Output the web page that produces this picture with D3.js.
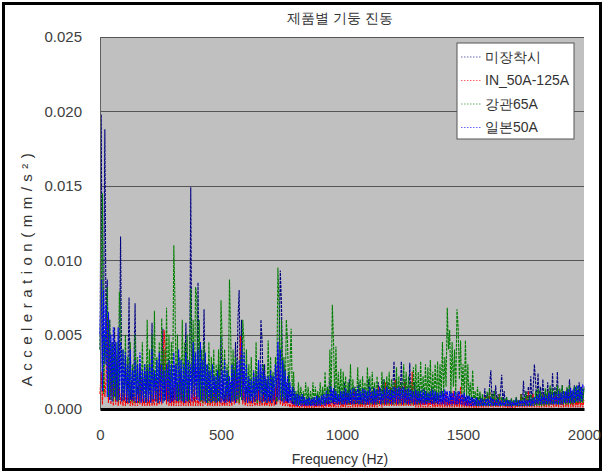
<!DOCTYPE html>
<html>
<head>
<meta charset="utf-8">
<script src="https://cdn.jsdelivr.net/npm/d3@7"></script>
<style>
  body { margin: 0; background: #ffffff; }
  text { font-family: "Liberation Sans", Arial, sans-serif; }
</style>
</head>
<body>
<script>
// spectrum values, in units of 0.0001 mm/s^2, one per 5 Hz bin
// each row below covers 100 Hz
var freqStep = 5;

var noMount = [
    40,198,30,60,188,50,87,20,60,10,45,8,55,6,30,5,25,116,8,20,
    5,35,4,20,75,6,18,5,25,71,6,15,4,30,5,20,4,25,5,30,
    4,20,5,58,4,25,6,20,4,30,5,25,54,5,20,4,18,5,25,4,
    22,4,30,5,18,4,25,5,20,4,15,58,5,20,4,149,10,40,5,30,
    6,85,8,30,5,20,67,6,18,4,25,5,15,4,22,5,18,4,30,5,
    49,6,20,4,15,5,25,4,18,5,30,6,45,8,60,80,10,60,5,25,
    4,15,5,20,4,12,5,18,3,25,4,20,3,60,45,5,30,4,20,5,
    15,4,22,5,12,3,20,5,40,93,70,8,30,5,18,4,25,5,12,3,
    15,3,10,2,12,3,8,2,10,2,6,2,9,2,5,2,8,2,6,2,
    10,2,7,2,12,3,8,2,15,3,20,4,12,3,18,3,10,3,15,3,
    10,3,18,3,12,3,20,3,10,3,15,3,12,3,18,3,10,3,14,3,
    12,3,20,3,10,3,15,3,12,3,18,3,14,3,20,3,12,3,18,4,
    15,4,14,32,4,20,4,15,4,32,12,4,20,4,15,4,31,4,14,3,
    18,3,12,3,15,3,10,3,14,3,12,3,10,3,14,3,10,3,12,3,
    9,3,14,3,10,2,12,2,8,2,12,2,10,2,9,2,12,2,8,2,
    10,2,8,2,9,2,7,2,8,2,6,2,8,2,10,2,8,2,14,3,
    10,3,16,26,4,12,3,16,4,10,3,12,23,3,12,3,8,2,6,2,
    7,2,5,2,8,2,6,2,10,2,19,3,12,3,15,3,22,4,14,30,
    18,4,24,5,15,4,20,3,12,3,18,4,14,3,24,4,15,4,25,3,
    12,3,16,3,10,3,14,3,20,4,12,3,16,3,12,3,18,4,15,5,
    15];

var in50_125 = [
    10,25,3,30,8,20,62,4,40,3,20,2,18,3,35,2,15,3,12,2,
    12,2,15,3,10,2,8,2,12,2,10,2,15,3,20,2,8,2,12,2,
    8,2,15,2,10,2,18,2,12,3,30,3,20,53,40,3,30,2,12,2,
    8,2,15,2,10,2,25,2,12,2,8,2,15,2,10,2,12,2,18,2,
    10,2,8,2,12,2,15,3,20,2,10,2,8,2,12,2,10,2,15,2,
    8,2,6,2,10,2,12,2,8,2,15,3,25,4,20,3,49,35,3,12,
    2,8,2,10,2,6,2,8,2,10,2,12,2,8,2,10,2,6,2,8,
    2,5,2,10,2,15,3,30,20,3,10,2,8,2,6,2,5,1,6,1,
    4,1,6,1,3,1,4,1,5,1,3,1,4,1,3,1,5,1,3,1,
    4,1,6,1,3,1,5,1,8,1,4,1,6,1,4,1,5,1,8,1,
    4,1,6,1,10,1,5,1,8,1,12,1,6,1,8,1,5,1,10,1,
    6,1,8,1,12,1,6,1,10,1,15,2,8,1,12,2,18,2,10,2,
    15,2,8,2,20,2,12,2,15,2,10,2,18,2,12,2,8,2,25,2,
    12,1,10,1,6,1,8,1,5,1,8,1,6,1,10,1,5,1,6,1,
    8,1,5,1,7,1,10,1,6,1,8,1,12,1,8,1,10,1,15,1,
    8,1,5,1,6,1,4,1,5,1,3,1,4,1,6,1,4,1,8,1,
    5,1,12,1,6,1,8,1,5,1,10,1,6,1,4,1,3,1,4,1,
    3,1,5,1,3,1,6,1,10,1,5,1,8,1,12,1,6,1,10,1,
    6,1,8,1,5,1,10,1,6,1,12,1,8,1,6,1,10,1,8,1,
    12,1,6,1,10,1,8,1,12,1,6,1,8,1,5,1,8,1,6,1,
    6];

var steel65 = [
    40,80,145,10,50,30,82,8,60,6,45,5,35,6,45,5,79,60,5,40,
    6,50,5,35,4,45,5,30,4,50,5,35,4,25,6,45,5,30,4,60,
    6,40,5,50,6,66,5,35,4,45,6,61,5,40,6,68,5,50,6,45,
    6,110,70,6,50,5,35,6,60,5,45,6,50,5,35,81,10,60,8,82,
    75,8,60,5,40,4,45,5,30,4,45,4,35,5,40,4,30,5,40,5,
    73,45,5,40,6,30,5,87,50,5,40,6,35,5,25,4,35,6,60,45,
    5,40,4,30,5,35,4,25,5,45,4,30,5,25,4,30,5,20,4,46,
    5,35,4,25,8,35,5,95,70,6,60,5,35,6,60,45,8,30,54,5,
    25,3,12,3,18,3,15,3,12,3,18,3,15,3,12,3,18,3,15,3,
    12,3,18,3,15,3,25,4,15,5,40,4,70,45,5,42,4,25,3,27,
    3,25,3,22,3,18,3,30,3,20,3,15,3,28,3,20,3,22,3,18,
    3,28,3,22,3,25,3,18,3,22,3,15,3,25,3,20,3,22,3,25,
    3,20,3,18,3,28,3,22,3,18,3,30,3,25,3,22,3,18,3,28,
    3,30,3,25,3,32,4,22,4,30,4,28,4,33,4,25,4,30,4,32,
    5,30,8,45,10,35,15,68,40,53,10,45,15,40,8,67,55,20,46,10,
    30,5,46,8,30,5,18,4,26,3,12,2,15,2,12,2,10,2,8,2,
    12,2,14,2,10,2,12,2,8,2,10,2,8,2,7,2,8,2,6,2,
    7,2,6,2,8,2,6,2,10,2,8,2,12,2,9,2,10,2,8,2,
    12,2,14,2,12,2,10,2,14,3,12,2,16,3,14,3,12,3,16,3,
    14,3,16,3,12,3,15,3,16,3,12,3,15,4,16,4,15,4,14,4,
    14];

var japan50 = [
    50,87,12,80,30,70,8,65,6,50,5,55,8,45,5,55,6,45,5,40,
    6,38,5,30,4,40,6,26,5,33,4,30,5,38,4,26,5,30,4,26,
    5,30,4,40,6,26,5,33,4,38,5,30,4,26,6,30,5,33,4,30,
    5,38,6,30,5,40,6,33,5,30,4,38,5,33,6,30,5,45,8,38,
    6,40,5,45,6,33,5,38,4,30,5,26,4,30,5,22,4,26,5,22,
    4,26,5,33,4,26,5,22,4,30,5,26,4,30,6,33,8,45,6,38,
    5,30,4,22,5,20,4,26,5,22,6,33,5,30,4,26,5,22,4,22,
    5,26,4,22,6,30,8,45,6,40,5,33,4,26,5,22,4,18,4,15,
    3,12,2,10,2,9,2,10,2,8,2,7,2,8,2,7,2,8,2,9,
    2,8,2,9,3,10,2,12,3,10,3,15,4,14,3,12,3,10,3,12,
    3,12,3,14,3,11,4,13,3,14,3,12,4,15,3,12,4,14,3,13,
    3,12,3,15,4,12,3,14,3,13,4,15,3,12,4,14,3,15,4,13,
    3,13,3,15,4,14,3,15,4,14,3,15,4,13,3,14,3,13,4,12,
    3,13,3,12,4,12,3,13,3,12,3,11,4,12,3,13,3,12,4,11,
    3,11,3,12,3,13,3,12,3,12,3,11,3,12,3,11,3,12,3,10,
    3,11,2,9,2,9,2,8,2,7,2,8,2,6,2,7,2,6,2,7,
    2,7,2,8,2,7,2,6,2,7,2,5,2,6,2,5,2,6,2,5,
    2,5,2,6,2,5,2,6,2,6,2,7,2,6,2,8,2,7,2,8,
    3,9,3,10,3,9,3,10,3,9,3,11,3,10,3,11,3,10,3,12,
    3,11,3,12,4,12,4,13,4,14,4,13,4,15,5,16,5,15,5,16,
    15];

var seriesNames = ["미장착시", "IN_50A-125A", "강관65A", "일본50A"];
var seriesColors = ["#000080", "#ff0000", "#008000", "#0000ff"];
var yTicks = [0, 0.005, 0.010, 0.015, 0.020, 0.025];
var xTicks = [0, 500, 1000, 1500, 2000];

window.onload = function(){
    drawChart();
};

function drawChart(){
    var width = 605, height = 472;
    var svg = d3.select("body").append("svg")
        .attr("width", width).attr("height", height);

    // outer frame of the figure
    svg.append("rect")
        .attr("x", 3.5).attr("y", 3.5)
        .attr("width", 597).attr("height", 466)
        .attr("fill", "#ffffff")
        .attr("stroke", "#000000")
        .attr("stroke-width", 3);

    var margin = {top: 37, right: 21, bottom: 63, left: 100};
    var w = width - margin.left - margin.right;
    var h = height - margin.top - margin.bottom;
    var g = svg.append("g").attr("transform", "translate(" + margin.left + "," + margin.top + ")");

    var xScale = d3.scaleLinear().domain([0, 2000]).range([0, w]);
    var yScale = d3.scaleLinear().domain([0, 0.025]).range([h, 0]);

    // gray plot area
    g.append("rect")
        .attr("width", w).attr("height", h)
        .attr("fill", "#c0c0c0");

    // horizontal gridlines
    g.selectAll(".grid")
        .data(yTicks.slice(1))
        .enter()
        .append("line")
        .attr("class", "grid")
        .attr("x1", 0).attr("x2", w)
        .attr("y1", function(d){ return Math.round(yScale(d)) + 0.5; })
        .attr("y2", function(d){ return Math.round(yScale(d)) + 0.5; })
        .attr("stroke", "#555555")
        .attr("stroke-width", 1);

    var table = seriesNames.map(function(name, i){
        var vals = [noMount, in50_125, steel65, japan50][i];
        return {
            name: name,
            color: seriesColors[i],
            points: vals.map(function(v, k){ return {f: k * freqStep, a: v * 0.0001}; })
        };
    });

    var line = d3.line()
        .x(function(d){ return xScale(d.f); })
        .y(function(d){ return yScale(d.a); });

    g.selectAll(".series")
        .data(table)
        .enter()
        .append("path")
        .attr("class", "series")
        .attr("d", function(d){ return line(d.points); })
        .attr("fill", "none")
        .attr("stroke", function(d){ return d.color; })
        .attr("stroke-width", 1.1)
        .attr("stroke-dasharray", "3,1");

    // y axis
    var yAxis = g.append("g")
        .call(d3.axisLeft(yScale).tickValues(yTicks).tickFormat(d3.format(".3f")).tickSize(0).tickPadding(18));
    yAxis.select(".domain").attr("stroke", "#606060");
    yAxis.selectAll("text")
        .attr("fill", "#404040")
        .style("font-size", "15px");

    // x axis, thick dark base line
    var xAxis = g.append("g")
        .attr("transform", "translate(0," + h + ")")
        .call(d3.axisBottom(xScale).tickValues(xTicks).tickFormat(d3.format("d")).tickSize(0).tickPadding(20));
    xAxis.select(".domain").attr("stroke", "#000000").attr("stroke-width", 3);
    xAxis.selectAll("text")
        .attr("fill", "#404040")
        .style("font-size", "15px");

    // title
    svg.append("text")
        .attr("x", 340).attr("y", 23)
        .style("text-anchor", "middle")
        .style("font-size", "14px")
        .attr("fill", "#333333")
        .text("제품별 기둥 진동");

    // axis titles
    svg.append("text")
        .attr("x", 340).attr("y", 464)
        .style("text-anchor", "middle")
        .style("font-size", "14px")
        .attr("fill", "#333333")
        .text("Frequency (Hz)");

    svg.append("text")
        .attr("transform", "translate(32,267) rotate(-90)")
        .style("text-anchor", "middle")
        .style("font-size", "15px")
        .style("letter-spacing", "5.5px")
        .attr("fill", "#333333")
        .text("Acceleration(mm/s²)");

    // legend
    var legend = svg.append("g").attr("transform", "translate(457,43)");
    legend.append("rect")
        .attr("width", 117).attr("height", 96)
        .attr("fill", "#ffffff")
        .attr("stroke", "#555555");

    var items = legend.selectAll(".item")
        .data(table)
        .enter()
        .append("g")
        .attr("class", "item")
        .attr("transform", function(d, i){ return "translate(0," + (14 + i * 23.5) + ")"; });

    items.append("line")
        .attr("x1", 4).attr("x2", 25)
        .attr("stroke", function(d){ return d.color; })
        .attr("stroke-width", 1)
        .attr("stroke-dasharray", "1.5,1.5")
        .attr("opacity", 0.6);

    items.append("text")
        .attr("x", 28).attr("dy", "0.35em")
        .style("font-size", "14px")
        .attr("fill", "#333333")
        .text(function(d){ return d.name; });
}
</script>
</body>
</html>
